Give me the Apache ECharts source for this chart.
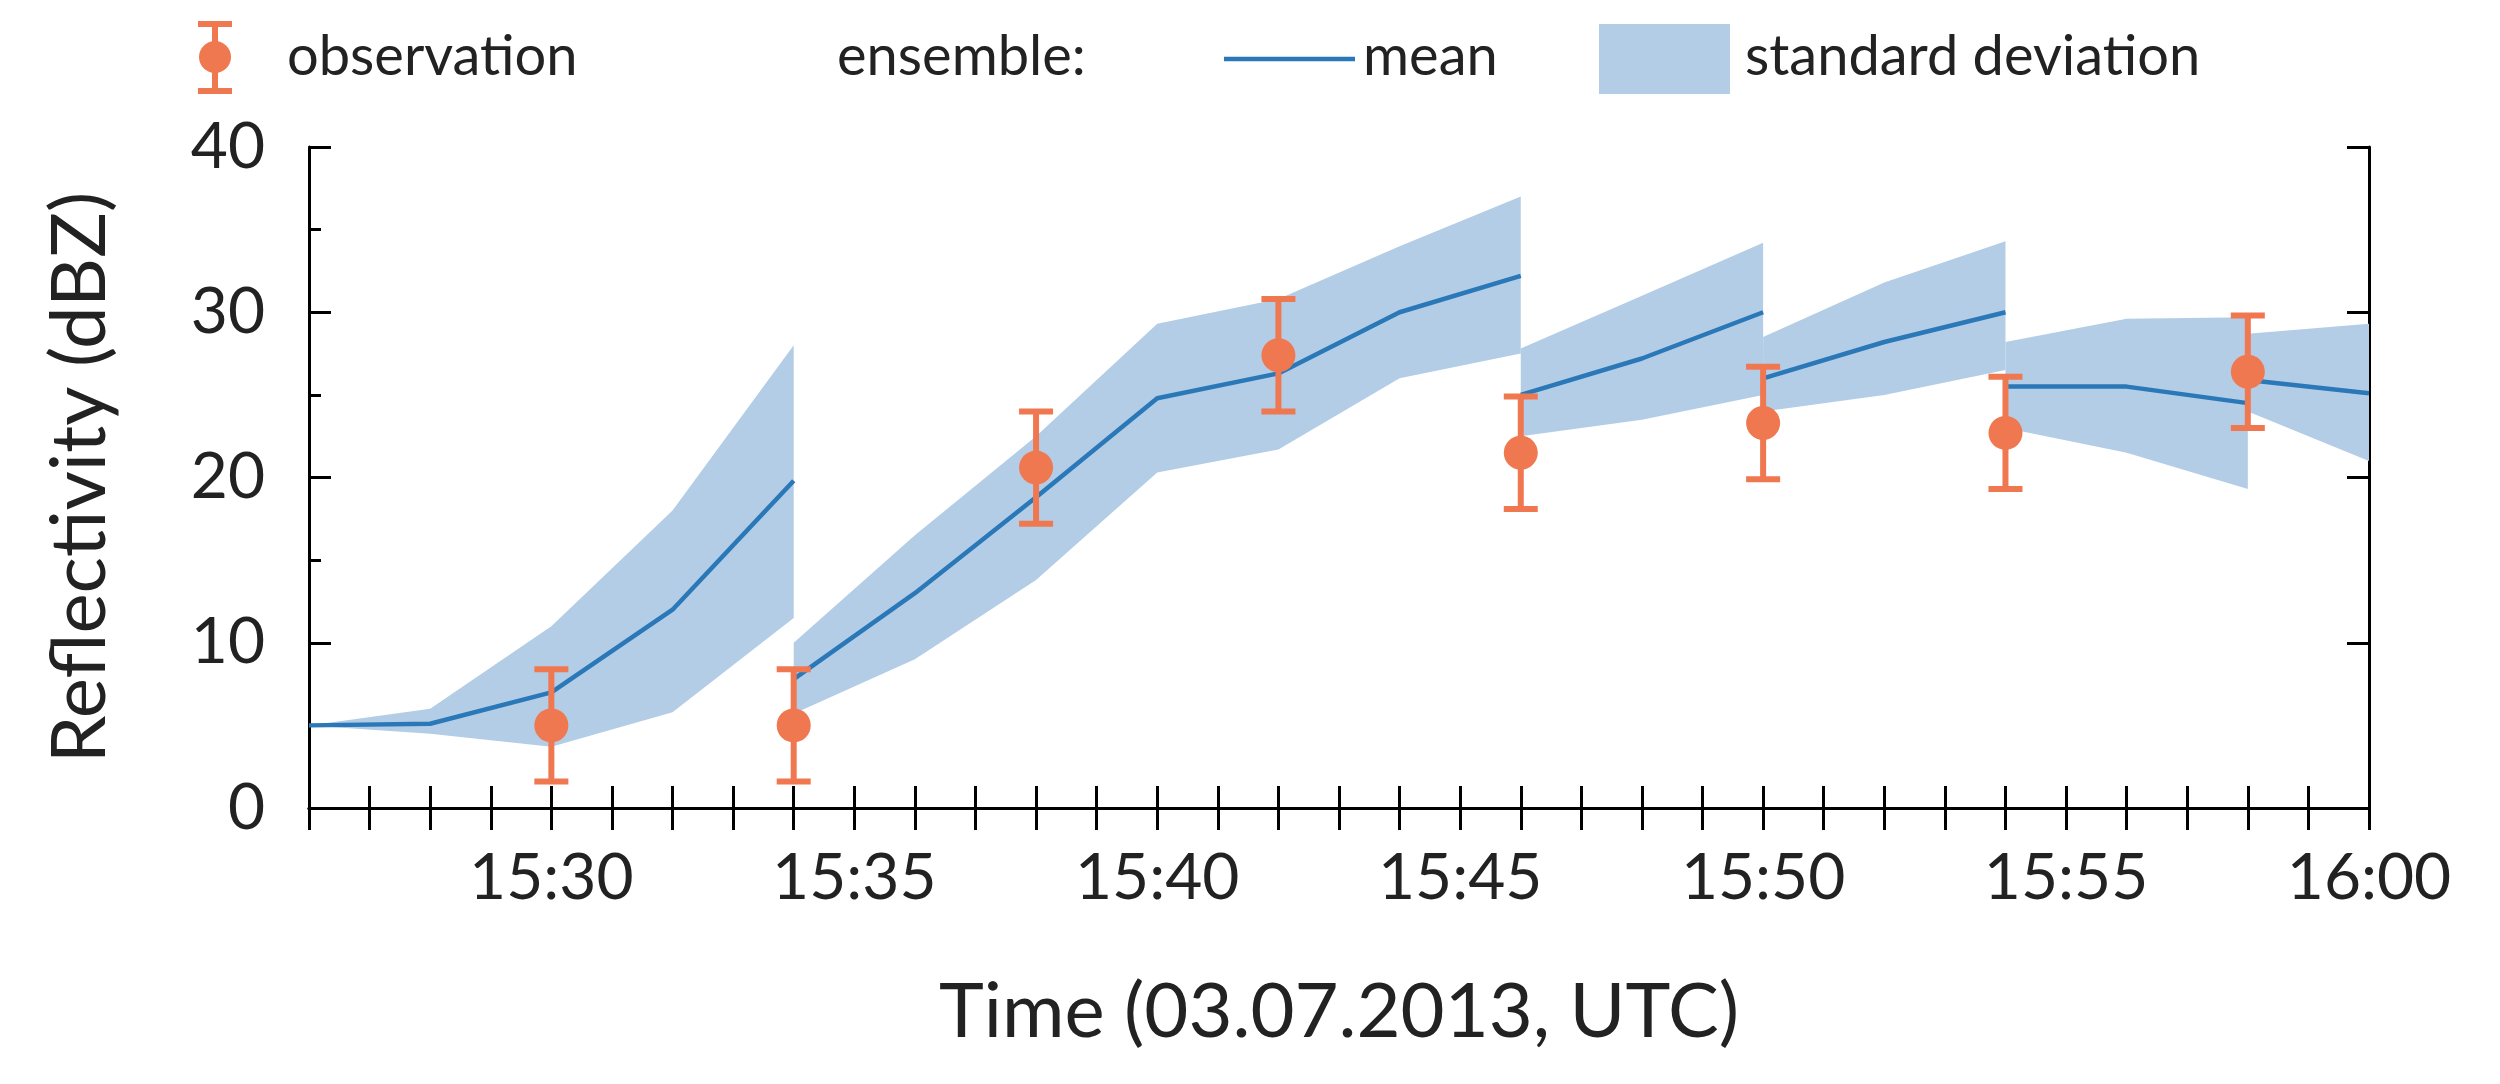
<!DOCTYPE html>
<html><head><meta charset="utf-8">
<script src="https://cdn.jsdelivr.net/npm/echarts@6/dist/echarts.min.js"></script>
<style>html,body{margin:0;background:#fff}#main{width:2500px;height:1084px}</style>
</head><body><div id="main"></div>
<script>
// minutes after 15:00
const segments = [
  { t: [26, 28, 30, 32, 34], mean: [5, 5.1, 7, 12, 19.8], lo: [5, 4.5, 3.7, 5.8, 11.5], hi: [5, 6, 11, 18, 28] },
  { t: [34, 36, 38, 40, 42, 44, 46], mean: [7.8, 13, 18.8, 24.8, 26.3, 30, 32.2], lo: [5.7, 9, 13.8, 20.3, 21.7, 26, 27.5], hi: [10, 16.5, 22.5, 29.3, 30.8, 34, 37] },
  { t: [46, 48, 50], mean: [25, 27.2, 30], lo: [22.5, 23.5, 25], hi: [27.8, 31, 34.2] },
  { t: [50, 52, 54], mean: [26, 28.2, 30], lo: [24, 25, 26.5], hi: [28.5, 31.8, 34.3] },
  { t: [54, 56, 58], mean: [25.5, 25.5, 24.5], lo: [23, 21.5, 19.3], hi: [28.2, 29.6, 29.7] },
  { t: [58, 60], mean: [25.9, 25.1], lo: [24, 21], hi: [28.7, 29.3] }
];
const obsTime = [30, 34, 38, 42, 46, 50, 54, 58];
const obsValue = [5, 5, 20.6, 27.4, 21.5, 23.3, 22.7, 26.4];
const obsError = [3.4, 3.4, 3.4, 3.4, 3.4, 3.4, 3.4, 3.4];

const BLUE = "#2a78b8", BAND = "#b3cde6", RED = "#f07850";
const FONT = "Lato";
const chart = echarts.init(document.getElementById("main"));

const series = [];
segments.forEach((s) => {
  series.push({
    type: "custom", silent: true, z: 1,
    data: [0],
    renderItem: (params, api) => {
      const pts = [];
      s.t.forEach((t, i) => pts.push(api.coord([t, s.hi[i]])));
      for (let i = s.t.length - 1; i >= 0; i--) pts.push(api.coord([s.t[i], s.lo[i]]));
      return { type: "polygon", shape: { points: pts }, style: { fill: BAND } };
    }
  });
  series.push({
    type: "line", z: 2, symbol: "none", silent: true,
    lineStyle: { color: BLUE, width: 4.5 },
    data: s.t.map((t, i) => [t, s.mean[i]])
  });
});
series.push({
  type: "custom", z: 3, silent: true,
  data: obsTime.map((t, i) => [t, obsValue[i] - obsError[i], obsValue[i] + obsError[i]]),
  renderItem: (params, api) => {
    const a = api.coord([api.value(0), api.value(1)]);
    const b = api.coord([api.value(0), api.value(2)]);
    const st = { stroke: RED, lineWidth: 6 };
    return { type: "group", children: [
      { type: "line", shape: { x1: a[0], y1: a[1], x2: b[0], y2: b[1] }, style: st },
      { type: "line", shape: { x1: a[0] - 17, y1: a[1], x2: a[0] + 17, y2: a[1] }, style: st },
      { type: "line", shape: { x1: b[0] - 17, y1: b[1], x2: b[0] + 17, y2: b[1] }, style: st }
    ] };
  }
});
series.push({
  type: "scatter", z: 4, symbolSize: 34, itemStyle: { color: RED, opacity: 1 },
  data: obsTime.map((t, i) => [t, obsValue[i]])
});

const tick = { show: true, inside: true, length: 22, lineStyle: { color: "#000", width: 3 } };
const line = { show: true, lineStyle: { color: "#000", width: 3 } };

chart.setOption({
  animation: false,
  grid: { left: 309, right: 131, top: 147, bottom: 276 },
  xAxis: [
    { type: "value", min: 26, max: 60, interval: 1, position: "bottom",
      axisLine: line, axisTick: tick, splitLine: { show: false },
      axisLabel: { fontFamily: FONT, fontSize: 64, color: "#222", margin: 38,
        formatter: (v) => (v === 60 ? "16:00" : v % 5 === 0 ? "15:" + String(v).padStart(2, "0") : "") },
      name: "Time (03.07.2013, UTC)", nameLocation: "middle", nameGap: 204,
      nameTextStyle: { fontFamily: FONT, fontSize: 76, color: "#222", verticalAlign: "middle" } },
    { type: "value", min: 26, max: 60, interval: 1, position: "top",
      axisLine: line, axisTick: tick, axisLabel: { show: false }, splitLine: { show: false } }
  ],
  yAxis: [
    { type: "value", min: 0, max: 40, interval: 10, position: "left",
      minorTick: { show: true, splitNumber: 2, length: 12, lineStyle: { color: "#000", width: 3 } },
      axisLine: line, axisTick: tick, splitLine: { show: false },
      axisLabel: { fontFamily: FONT, fontSize: 64, color: "#222", margin: 44 },
      name: "Reflectivity (dBZ)", nameLocation: "middle", nameGap: 229,
      nameTextStyle: { fontFamily: FONT, fontSize: 76, color: "#222", verticalAlign: "middle" } },
    { type: "value", min: 0, max: 40, interval: 10, position: "right",
      axisLine: line, axisTick: tick, axisLabel: { show: false }, splitLine: { show: false } }
  ],
  series: series,
  graphic: [
    { type: "line", shape: { x1: 215, y1: 24, x2: 215, y2: 91 }, style: { stroke: RED, lineWidth: 6 } },
    { type: "line", shape: { x1: 198, y1: 24, x2: 232, y2: 24 }, style: { stroke: RED, lineWidth: 6 } },
    { type: "line", shape: { x1: 198, y1: 91, x2: 232, y2: 91 }, style: { stroke: RED, lineWidth: 6 } },
    { type: "circle", shape: { cx: 215, cy: 57, r: 16 }, style: { fill: RED } },
    { type: "text", x: 287, y: 57, style: { text: "observation", font: "56px " + FONT, fill: "#222", verticalAlign: "middle" } },
    { type: "text", x: 837, y: 57, style: { text: "ensemble:", font: "56px " + FONT, fill: "#222", verticalAlign: "middle" } },
    { type: "line", shape: { x1: 1224, y1: 59, x2: 1355, y2: 59 }, style: { stroke: BLUE, lineWidth: 4.5 } },
    { type: "text", x: 1363, y: 57, style: { text: "mean", font: "56px " + FONT, fill: "#222", verticalAlign: "middle" } },
    { type: "rect", shape: { x: 1599, y: 24, width: 131, height: 70 }, style: { fill: BAND } },
    { type: "text", x: 1745, y: 57, style: { text: "standard deviation", font: "56px " + FONT, fill: "#222", verticalAlign: "middle" } }
  ]
});
</script></body></html>
